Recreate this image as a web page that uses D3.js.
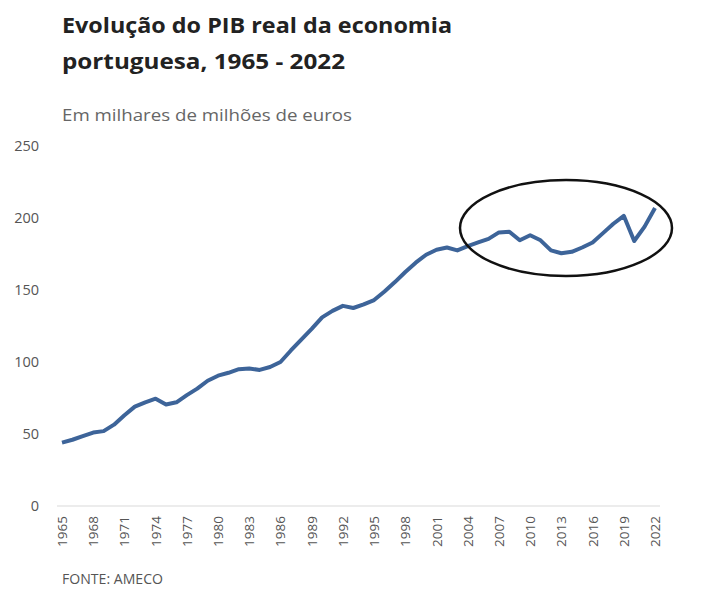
<!DOCTYPE html><html><head><meta charset="utf-8"><script src="https://cdn.jsdelivr.net/npm/d3@7"></script>
<style>body{margin:0;background:#fff}text{font-family:"Open Sans",sans-serif}</style></head><body><svg id="c" width="708" height="600"></svg>
<script>
const years=d3.range(1965,2023);
const gdp=[44,46,48.5,51,52,56.5,63,69,72,74.5,70.5,72,77,81.5,87,90.5,92.5,95,95.5,94.5,96.5,100,108,115.5,123,131,135.5,139,137.5,140,143,149,155.5,162.5,169,174.5,178,179.5,177.5,180.5,183,185.5,190,190.5,184.5,188,184.5,177.5,175.5,176.5,179.5,183,189.5,196,201.5,184,194,207];
const yTicks=[0,50,100,150,200,250];
const tickYears=years.filter(y=>(y-1965)%3===0);
const svg=d3.select("#c");
const x=d3.scalePoint().domain(years).range([62,655]);
const y=d3.scaleLinear().domain([0,250]).range([506,146]);
svg.append("text").attr("x",62).attr("y",33).attr("font-size",21).attr("font-weight","bold").attr("fill","#222").attr("textLength",390).attr("lengthAdjust","spacingAndGlyphs").text("Evolução do PIB real da economia");
svg.append("text").attr("x",62).attr("y",69).attr("font-size",21).attr("font-weight","bold").attr("fill","#222").attr("textLength",283).attr("lengthAdjust","spacingAndGlyphs").text("portuguesa, 1965 - 2022");
svg.append("text").attr("x",62).attr("y",121).attr("font-size",16).attr("fill","#666").attr("textLength",290).attr("lengthAdjust","spacingAndGlyphs").text("Em milhares de milhões de euros");
svg.append("g").selectAll("text").data(yTicks).join("text").attr("x",39).attr("y",d=>y(d)+5).attr("text-anchor","end").attr("font-size",14.5).attr("fill","#555").text(d=>d);
svg.append("line").attr("x1",57).attr("x2",660).attr("y1",y(0)).attr("y2",y(0)).attr("stroke","#d9d9d9");
svg.append("g").selectAll("text").data(tickYears).join("text").attr("transform",d=>`translate(${x(d)+5},${516}) rotate(-90)`).attr("text-anchor","end").attr("font-size",13.5).attr("fill","#555").text(d=>d);
svg.append("path").datum(gdp).attr("fill","none").attr("stroke","#3d6499").attr("stroke-width",4).attr("stroke-linejoin","round")
 .attr("d",d3.line().x((d,i)=>x(years[i])).y(d=>y(d)));
svg.append("ellipse").attr("cx",566).attr("cy",228).attr("rx",106).attr("ry",48).attr("fill","none").attr("stroke","#111").attr("stroke-width",2.5);
svg.append("text").attr("x",62).attr("y",584).attr("font-size",14).attr("fill","#555").attr("textLength",101).attr("lengthAdjust","spacingAndGlyphs").text("FONTE: AMECO");
</script></body></html>
